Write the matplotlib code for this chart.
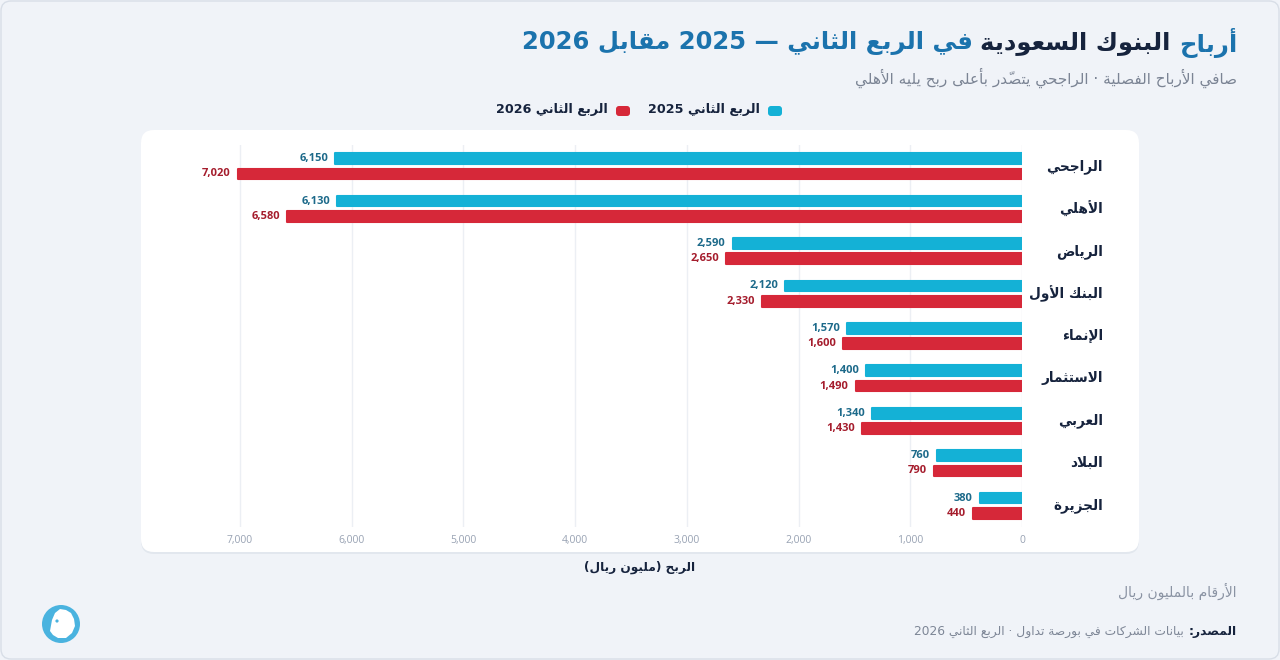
import re

import matplotlib.pyplot as plt
from matplotlib import transforms
from matplotlib.patches import FancyBboxPatch, Circle, Polygon

# ---- data ----
banks = ["الراجحي", "الأهلي", "الرياض", "البنك الأول", "الإنماء",
         "الاستثمار", "العربي", "البلاد", "الجزيرة"]
q2_2025 = [6150, 6130, 2590, 2120, 1570, 1400, 1340, 760, 380]
q2_2026 = [7020, 6580, 2650, 2330, 1600, 1490, 1430, 790, 440]
series_names = ["الربع الثاني 2025", "الربع الثاني 2026"]
x_ticks = [0, 1000, 2000, 3000, 4000, 5000, 6000, 7000]

title_parts = ["أرباح", "البنوك السعودية", "في الربع الثاني — 2025 مقابل 2026"]
subtitle = "صافي الأرباح الفصلية · الراجحي يتصدّر بأعلى ربح يليه الأهلي"
x_label = "الربح (مليون ريال)"
units_note = "الأرقام بالمليون ريال"
source_head = "المصدر:"
source_body = "بيانات الشركات في بورصة تداول · الربع الثاني 2026"

BLUE = "#14b1d6"
RED = "#d62839"
BLUE_TXT = "#1d6a8a"
RED_TXT = "#a51d2d"
DARK = "#16233d"
TITLE_BLUE = "#1b73ad"
GREY = "#7b8494"
BG = "#f0f3f8"

# ---- minimal arabic shaping (matplotlib has no complex text layout) ----
_RIGHT = {"آ": 0xFE81, "أ": 0xFE83, "ؤ": 0xFE85, "إ": 0xFE87, "ا": 0xFE8D,
          "ة": 0xFE93, "د": 0xFEA9, "ذ": 0xFEAB, "ر": 0xFEAD, "ز": 0xFEAF,
          "و": 0xFEED, "ى": 0xFEEF,
          "لآ": 0xFEF5, "لأ": 0xFEF7, "لإ": 0xFEF9, "لا": 0xFEFB}
_DUAL = {"ئ": 0xFE89, "ب": 0xFE8F, "ت": 0xFE95, "ث": 0xFE99, "ج": 0xFE9D,
         "ح": 0xFEA1, "خ": 0xFEA5, "س": 0xFEB1, "ش": 0xFEB5, "ص": 0xFEB9,
         "ض": 0xFEBD, "ط": 0xFEC1, "ظ": 0xFEC5, "ع": 0xFEC9, "غ": 0xFECD,
         "ف": 0xFED1, "ق": 0xFED5, "ك": 0xFED9, "ل": 0xFEDD, "م": 0xFEE1,
         "ن": 0xFEE5, "ه": 0xFEE9, "ي": 0xFEF1}
_MARKS = {chr(c) for c in range(0x064B, 0x0660)} | {"\u0670"}
_MIRROR = {"(": ")", ")": "("}


def _shape(word):
    units, i = [], 0
    while i < len(word):
        if word[i] == "ل" and i + 1 < len(word) and word[i + 1] in "اأإآ":
            units.append(word[i:i + 2])
            i += 2
        else:
            units.append(word[i])
            i += 1
    out = []
    for k, u in enumerate(units):
        if u not in _RIGHT and u not in _DUAL:
            out.append(_MIRROR.get(u, u))
            continue
        p = k - 1
        while p >= 0 and units[p] in _MARKS:
            p -= 1
        n = k + 1
        while n < len(units) and units[n] in _MARKS:
            n += 1
        jp = p >= 0 and units[p] in _DUAL
        jn = u in _DUAL and n < len(units) and (units[n] in _DUAL or units[n] in _RIGHT)
        if u in _RIGHT:
            out.append(chr(_RIGHT[u] + (1 if jp else 0)))
        else:
            out.append(chr(_DUAL[u] + (3 if jp and jn else 1 if jp else 2 if jn else 0)))
    clusters = []
    for g in out:
        if g in _MARKS and clusters:
            clusters[-1] += g
        else:
            clusters.append(g)
    return "".join(reversed(clusters))


def ar(text):
    parts = re.split(r"([0-9A-Za-z][0-9A-Za-z.,]*)", text)
    segs = [p if k % 2 else _shape(p) for k, p in enumerate(parts)]
    return "".join(reversed(segs))


AR_FONT = ["DejaVu Sans"]
NUM_FONT = ["Open Sans", "DejaVu Sans"]

fig = plt.figure(figsize=(12.8, 6.6), dpi=100, facecolor=BG)
inch = fig.dpi_scale_trans


def px(x, y):
    # pixel (from top-left) -> inches
    return x / 100, (660 - y) / 100


# frame + white panel
fig.patches.append(FancyBboxPatch(px(1, 659), 12.78, 6.58, boxstyle="round,pad=0,rounding_size=0.1",
                                  transform=inch, facecolor=BG, edgecolor="#d8dee7", lw=1, zorder=0))
fig.patches.append(FancyBboxPatch(px(141, 554), 9.98, 4.22, boxstyle="round,pad=0,rounding_size=0.13",
                                  transform=inch, facecolor="#e2e7ee", edgecolor="none", zorder=1))
fig.patches.append(FancyBboxPatch(px(141, 552), 9.98, 4.22, boxstyle="round,pad=0,rounding_size=0.13",
                                  transform=inch, facecolor="white", edgecolor="none", zorder=2))

# axes: 0 at x=1022px, 7500 at ~184px
ax = fig.add_axes([184.2 / 1280, (660 - 527) / 660, (1022 - 184.2) / 1280, (527 - 145) / 660])
ax.set_facecolor("none")
ax.set_zorder(3)

ys = list(range(len(banks)))
h = 0.25
off = 0.18
ax.barh([y - off for y in ys], q2_2025, height=h, color=BLUE, edgecolor=BLUE, lw=1.5,
        joinstyle="round", zorder=3)
ax.barh([y + off for y in ys], q2_2026, height=h, color=RED, edgecolor=RED, lw=1.5,
        joinstyle="round", zorder=3)

for y, a, b in zip(ys, q2_2025, q2_2026):
    ax.annotate(f"{a:,}", (a, y - off), xytext=(-5, 0), textcoords="offset points",
                ha="right", va="center", fontsize=8, fontweight="bold", color=BLUE_TXT, family=NUM_FONT)
    ax.annotate(f"{b:,}", (b, y + off), xytext=(-5, 0), textcoords="offset points",
                ha="right", va="center", fontsize=8, fontweight="bold", color=RED_TXT, family=NUM_FONT)

ax.set_xlim(7500, 0)
ax.set_ylim(len(banks) - 0.5, -0.5)
ax.set_xticks(x_ticks)
ax.set_xticklabels([f"{t:,}" for t in x_ticks], fontsize=7.5, color="#98a2b3", family=NUM_FONT)
ax.set_yticks([])
ax.tick_params(axis="x", length=0, pad=6)
ax.grid(axis="x", color="#eceff4", lw=1, zorder=0)
for s in ax.spines.values():
    s.set_visible(False)

# category labels right-aligned at x=1103px
lab_tr = transforms.blended_transform_factory(inch, ax.transData)
for y, name in zip(ys, banks):
    ax.text(11.03, y, ar(name), transform=lab_tr, ha="right", va="center",
            fontsize=9.8, fontweight="bold", color=DARK, family=AR_FONT, clip_on=False)

fig.canvas.draw()
renderer = fig.canvas.get_renderer()


def rtl_run(x_right, y, pieces, size, gap=7):
    # pieces in logical (right-to-left) order: (text, color, weight)
    x = x_right
    for txt, col, w in pieces:
        t = fig.text(x / 100, (660 - y) / 100, ar(txt), transform=inch, ha="right", va="center",
                     fontsize=size, fontweight=w, color=col, family=AR_FONT)
        x -= t.get_window_extent(renderer).width + gap


# title
rtl_run(1237, 43, [(title_parts[0], TITLE_BLUE, "bold"),
                   (title_parts[1], DARK, "bold"),
                   (title_parts[2], TITLE_BLUE, "bold")], 17.5, gap=8)
fig.text(*px(1237, 78), ar(subtitle), transform=inch, ha="right", va="center",
         fontsize=11, color=GREY, family=AR_FONT)

# legend
legend_items = [(series_names[0], BLUE, 782), (series_names[1], RED, 630)]
for name, col, xr in legend_items:
    fig.patches.append(FancyBboxPatch(px(xr - 14, 116), 0.14, 0.1, boxstyle="round,pad=0,rounding_size=0.03",
                                      transform=inch, facecolor=col, edgecolor="none", zorder=3))
    fig.text(*px(xr - 22, 110), ar(name), transform=inch, ha="right", va="center",
             fontsize=9.2, fontweight="bold", color=DARK, family=AR_FONT)

# axis label
fig.text(*px(640, 567), ar(x_label), transform=inch, ha="center", va="center",
         fontsize=8.7, fontweight="bold", color=DARK, family=AR_FONT)

# notes
fig.text(*px(1237, 591), ar(units_note), transform=inch, ha="right", va="center",
         fontsize=10, color="#8a93a3", family=AR_FONT)
rtl_run(1237, 632, [(source_head, DARK, "bold"), (source_body, "#7d8696", "normal")], 8.8, gap=5)

# logo: blue disc with a white bird head
fig.patches.append(Circle(px(61, 624), 0.19, transform=inch, facecolor="#4ab3df",
                          edgecolor="none", zorder=3))
head = [(50, 631), (52, 620), (55, 613), (60, 609), (66, 610), (71, 613), (74, 619),
        (75, 626), (72, 633), (66, 638), (58, 638), (53, 635)]
fig.patches.append(Polygon([px(x, y) for x, y in head], closed=True, transform=inch,
                           facecolor="white", edgecolor="none", zorder=4))
fig.patches.append(Circle(px(57, 621), 0.016, transform=inch, facecolor="#4ab3df",
                          edgecolor="none", zorder=5))

fig.savefig("out.png", dpi=100, facecolor=BG)
